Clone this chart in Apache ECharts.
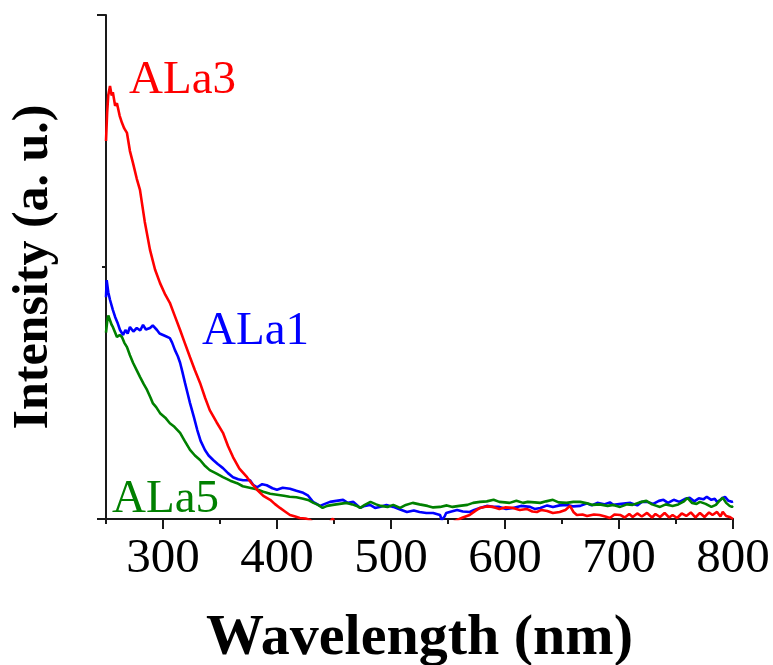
<!DOCTYPE html>
<html>
<head>
<meta charset="utf-8">
<script src="https://cdn.jsdelivr.net/npm/echarts@6/dist/echarts.min.js"></script>
<style>html,body{margin:0;padding:0;background:#fff}#c{width:773px;height:665px}</style>
</head>
<body>
<div id="c"></div>
<script>
const xMajorTicks = [300, 400, 500, 600, 700, 800];
const xMinorTicks = [250, 350, 450, 550, 650, 750];
const xLabels = [300, 400, 500, 600, 700, 800];

const ala3 = [[250,75],[251,80.6],[252,84.1],[253.5,85.9],[255,84],[256,84.7],[258,82],[259.6,82.5],[262,80],[264,78.6],[266,77.5],[268.4,76.6],[271,73],[273.7,70.6],[277,67.5],[279.8,65.3],[284,59],[288.6,53.4],[293,49.5],[297.4,46.8],[302,44.5],[306,42.9],[310,40.5],[315,37.5],[319,35],[323.7,32.1],[328,29.5],[332.5,27],[337,24],[341,21.6],[347,19.2],[352.6,17.1],[357,14.5],[361.4,12.3],[367,10],[373.7,8.3],[378,7],[382.5,5.8],[388,4.6],[394,3.8],[398,3],[402.6,2.2],[407,1.5],[411.4,0.8],[416,0.5],[420,0.2],[425,0.1],[429,-0.2],[435,-1.5],[445,-1],[449,0.1],[451,-1],[460,-2.5],[480,-3],[500,-3],[520,-2.5],[540,-2],[552,-1],[558,-0.2],[563,0.3],[569,0.8],[574,1.6],[578,2.2],[584,2.5],[589.5,2.4],[595,2.0],[600,2.3],[607,2.2],[613,1.8],[619,2.0],[624,1.5],[628,1.4],[632,1.8],[637,1.6],[642,1.2],[648,1.4],[653,1.8],[657,2.6],[660,1.4],[663,0.8],[668,0.9],[672,0.6],[678,0.9],[683,0.8],[688,0.5],[692,0.2],[696,0.9],[701,0.8],[705,0.3],[709,1.0],[712,0.4],[716,1.1],[720,0.5],[724.6,1.2],[729,0.3],[732,1.0],[736,0.4],[740,1.2],[744,0.3],[747,0.8],[751,0.2],[755,1.1],[759,0.6],[763,1.3],[767,0.3],[771,1.2],[775,0.4],[779,1.3],[782,0.8],[786,1.4],[789,0.5],[791,1.4],[794,0.6],[797,0.4],[800,0]];

const ala1 = [[250,44],[250.6,47.4],[252,45],[253.5,43.5],[256,41.5],[258,40.1],[260,39],[262.3,37.5],[265,36.5],[267,37.5],[269,36.8],[271,38.1],[274,37.2],[277,37.9],[280,37.4],[282.5,38.5],[285,37.6],[288.6,37.9],[291,38.4],[294.7,37.5],[297,36.8],[300,36.5],[303,36.2],[306,35.9],[308,35],[310.5,33.5],[313,32.3],[315,31],[317,29.2],[319.3,27],[321.5,25],[323.7,23],[327,20.3],[330,17.7],[333,15.5],[336.8,13.7],[340,12.6],[344,11.7],[348,10.9],[352.6,10.1],[357,9.1],[361.4,8.3],[366,7.9],[370.2,7.7],[376.3,7.7],[379,6.8],[382.5,6.3],[387,6.9],[391,6.7],[396,6.1],[400,5.8],[405,6.2],[411.4,6.0],[417,5.6],[423,5.2],[427,4.7],[431.6,3.4],[434,3.1],[437.7,2.6],[442,3.0],[446.5,3.4],[452,3.6],[458,3.8],[462,3.2],[467,3.4],[470,2.8],[473,2.2],[477,2.6],[481.6,2.8],[486,2.2],[490,2.4],[496,2.8],[502,2.4],[508,1.9],[514,1.4],[520,1.7],[525,1.4],[531,1.2],[537,1.2],[540,1.0],[543,0.8],[544.5,-0.2],[546,-0.4],[547,0.5],[548.4,1.2],[553,1.5],[558,1.8],[563,1.5],[569,1.4],[573,1.8],[578,2.2],[584,2.6],[589.5,2.4],[595,2.4],[601,2.0],[607,2.2],[614,2.6],[622,2.4],[626,2.0],[631,2.2],[637,2.7],[642,2.4],[648,2.7],[654,2.8],[660,2.5],[666,2.6],[672,3.1],[676,2.7],[681,3.2],[687,2.9],[692,3.3],[695,2.8],[702,3.0],[710,3.2],[716,2.7],[720,3.4],[725,3.4],[730,3.0],[735,3.6],[739,3.8],[743,3.2],[748,3.8],[753,3.4],[758,4.0],[762,4.2],[766,3.5],[770,4.1],[774,3.9],[777,4.4],[781,3.8],[784,4.0],[786,3.4],[789,3.8],[791,4.2],[793,4.4],[796,3.6],[799,3.4],[800,3.5]];

const ala5 = [[250,37],[251,39.1],[252,40.4],[253.5,40.1],[255,38.5],[256,38.1],[258,37],[259.6,36.1],[262,36.5],[264,36.1],[266,35],[268.4,34.1],[271,32.5],[273.7,31],[277,29.5],[279.8,28.2],[283,26.8],[286,25.6],[289,24.1],[291,23],[294,22.2],[297.4,21],[302,20.1],[306,19],[310,18.3],[315,17.1],[319,15.5],[323.7,13.7],[328,12.6],[332.5,11.7],[337,10.5],[341,9.7],[347,9.0],[352.6,8.3],[359,7.6],[365,7.1],[370,6.5],[376,6.2],[382,5.9],[388,5.4],[394,5.0],[400,4.8],[406,4.6],[411,4.4],[417,4.3],[423,4.0],[428,3.7],[432,3.2],[436,2.8],[440,2.2],[444,2.6],[449,2.8],[455,3.0],[461,3.2],[466,2.9],[470,2.6],[473,2.2],[477,2.8],[482,3.4],[487,2.9],[491,2.6],[497,2.4],[502,2.8],[508,2.2],[513,2.8],[519,3.2],[525,2.9],[532,2.6],[537,2.3],[543,2.4],[549,2.7],[554,2.4],[560,2.6],[567,2.8],[572,3.2],[578,3.4],[584,3.5],[590,3.8],[595,3.4],[600,3.3],[604,3.2],[610,3.6],[616,3.2],[620,3.4],[626,3.3],[631,3.2],[636,3.5],[642,3.8],[647,3.3],[654,3.2],[660,3.4],[666,3.4],[672,3.1],[677,2.8],[683,2.9],[690,2.6],[695,2.8],[701,2.4],[707,2.9],[712,2.8],[718,3.3],[724,3.6],[729,2.9],[736,2.4],[741,2.9],[747,2.6],[752,2.9],[757,3.5],[760,4.2],[764,3.2],[768,3.0],[771,3.4],[776,3.0],[781,2.4],[785,2.8],[788,3.6],[791,4.2],[794,3.2],[797,2.6],[799,2.4],[800,2.6]];

const seriesNames = ['ALa1', 'ALa5', 'ALa3'];
const seriesColors = ['#0000ff', '#008000', '#ff0000'];

const chart = echarts.init(document.getElementById('c'), null, {renderer: 'canvas'});
const serif = '"Liberation Serif", "Times New Roman", serif';
const axisColor = '#1a1a1a';

chart.setOption({
  animation: false,
  backgroundColor: '#ffffff',
  grid: {left: 106, right: 40, top: 15, bottom: 146, containLabel: false, outerBoundsMode: 'none'},
  xAxis: [{
    type: 'value', min: 250, max: 800, position: 'bottom',
    axisLine: {show: true, lineStyle: {color: axisColor, width: 2}},
    axisTick: {show: true, customValues: xMinorTicks, length: 5, inside: false, lineStyle: {color: axisColor, width: 2}},
    axisLabel: {show: false},
    splitLine: {show: false}
  }, {
    type: 'value', min: 250, max: 800, position: 'bottom',
    axisLine: {show: true, lineStyle: {color: axisColor, width: 2}},
    axisTick: {show: true, customValues: xMajorTicks, length: 10, inside: false, lineStyle: {color: axisColor, width: 2}},
    axisLabel: {show: true, customValues: xLabels, fontSize: 49, fontFamily: serif, color: '#000', margin: 16},
    splitLine: {show: false},
    name: 'Wavelength (nm)', nameLocation: 'middle', nameGap: 91,
    nameTextStyle: {fontSize: 58, fontWeight: 'bold', fontFamily: serif, color: '#000'}
  }],
  yAxis: {
    type: 'value', min: 0, max: 100, interval: 100,
    axisLine: {show: true, lineStyle: {color: axisColor, width: 2}},
    axisTick: {show: true, length: 9, lineStyle: {color: axisColor, width: 2}},
    minorTick: {show: true, splitNumber: 2, length: 4, lineStyle: {color: axisColor, width: 2}},
    axisLabel: {show: false},
    splitLine: {show: false},
    name: 'Intensity (a. u.)', nameLocation: 'middle', nameGap: 47,
    nameTextStyle: {fontSize: 50, fontWeight: 'bold', fontFamily: serif, color: '#000'}
  },
  series: [
    {name: seriesNames[0], type: 'line', data: ala1, showSymbol: false, xAxisIndex: 1, lineStyle: {color: seriesColors[0], width: 2.6}, itemStyle: {color: seriesColors[0]}, clip: true},
    {name: seriesNames[1], type: 'line', data: ala5, showSymbol: false, xAxisIndex: 1, lineStyle: {color: seriesColors[1], width: 2.6}, itemStyle: {color: seriesColors[1]}, clip: true},
    {name: seriesNames[2], type: 'line', data: ala3, showSymbol: false, xAxisIndex: 1, lineStyle: {color: seriesColors[2], width: 2.6}, itemStyle: {color: seriesColors[2]}, clip: true}
  ],
  graphic: [
    {type: 'text', left: 129, top: 57, style: {text: seriesNames[2], font: '47px ' + serif, fill: seriesColors[2]}},
    {type: 'text', left: 202, top: 308, style: {text: seriesNames[0], font: '47px ' + serif, fill: seriesColors[0]}},
    {type: 'text', left: 112, top: 476, style: {text: seriesNames[1], font: '47px ' + serif, fill: seriesColors[1]}}
  ]
});
</script>
</body>
</html>
